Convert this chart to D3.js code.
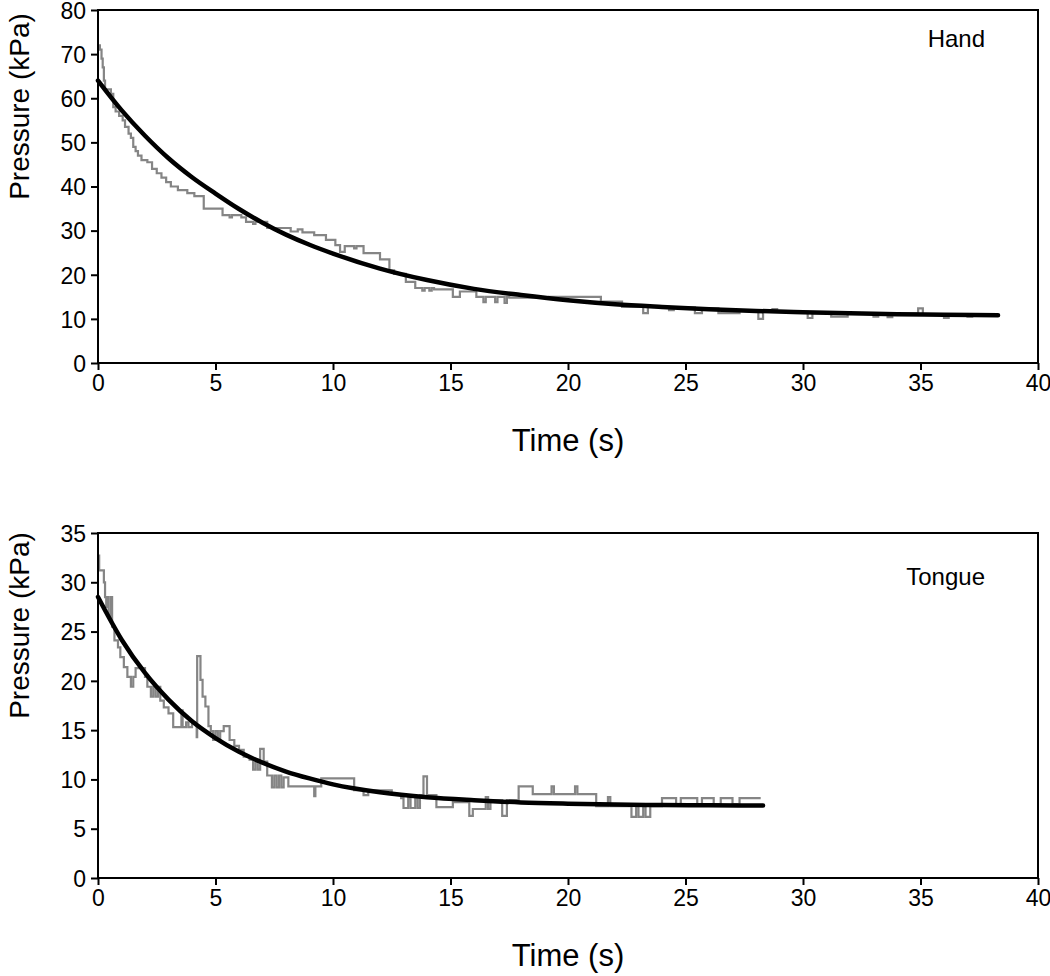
<!DOCTYPE html>
<html>
<head>
<meta charset="utf-8">
<script src="https://cdn.jsdelivr.net/npm/d3@7"></script>
<style>
  body { margin: 0; background: #fff; }
  svg { display: block; font-family: "Liberation Sans", Arial, sans-serif; }
</style>
</head>
<body>
<div class="chart"></div>
<script>
// raw pressure trace (step data) and fitted decay curve, [time s, kPa]
const handRaw = [
  [0, 72], [0.08, 71], [0.15, 69], [0.2, 67], [0.25, 64], [0.3, 62], [0.55, 61], [0.65, 58],
  [0.75, 57], [0.9, 56], [1.05, 55], [1.15, 53.5], [1.3, 52], [1.4, 51], [1.5, 49], [1.6, 48],
  [1.7, 47], [1.85, 46], [2.1, 45.5], [2.3, 44], [2.5, 43], [2.7, 42], [2.9, 41], [3.1, 40],
  [3.4, 39.2], [3.8, 38.5], [4.1, 37.8], [4.5, 35], [5.3, 33.5], [5.6, 33], [5.7, 33.5],
  [6.1, 33], [6.3, 32], [6.6, 31.5], [6.7, 32], [7.2, 30.6], [8.2, 29.8], [8.5, 30.3],
  [8.7, 29.6], [9.2, 29], [9.7, 27.9], [10.1, 26.7], [10.3, 25.2], [10.5, 26.5], [10.9, 26],
  [11.0, 26.5], [11.3, 24.9], [12.0, 23.5], [12.4, 21], [12.6, 20.2], [13.1, 18.4], [13.5, 17],
  [13.8, 16.4], [13.9, 17], [14.1, 16.4], [14.2, 17], [14.3, 16.7], [15.1, 15], [15.4, 16.2],
  [16.1, 15], [16.4, 13.8], [16.5, 15], [16.9, 13.8], [17.0, 15], [17.3, 13.6], [17.4, 15],
  [17.5, 14.8], [19.2, 15], [21.4, 13.9], [22.3, 12.7], [23.2, 11.3], [23.4, 12.7], [24.3, 12],
  [24.5, 12.6], [25.4, 11.3], [25.7, 12.4], [26.4, 11.3], [27.3, 11.8], [28.1, 10], [28.3, 11.8],
  [28.7, 12.2], [28.9, 11.6], [30.2, 10.2], [30.4, 11.3], [31.2, 10.5], [31.9, 11.3], [33.0, 10.5],
  [33.2, 11.2], [33.6, 10.4], [33.8, 11.2], [34.9, 12.4], [35.1, 10.9], [36.0, 10.2], [36.2, 10.9],
  [37.0, 10.5], [37.2, 10.9], [38.3, 10.9],
];
const handFit = [
  [0, 64], [1, 57.3], [2, 51.5], [3, 46.4], [4, 42.1], [5, 38.4], [6, 34.9], [7, 31.8],
  [8, 29.1], [9, 26.8], [10, 24.8], [12, 21.4], [14, 18.8], [16, 16.8], [18, 15.4],
  [20, 14.2], [22, 13.3], [24, 12.7], [26, 12.2], [28, 11.8], [30, 11.5], [32, 11.25],
  [34, 11.07], [36, 10.94], [38.3, 10.8],
];

const tongueRaw = [
  [0, 32.7], [0.05, 31.2], [0.25, 30], [0.3, 28.5], [0.35, 27.5], [0.4, 28.5], [0.45, 26.5],
  [0.55, 28.5], [0.6, 25.5], [0.7, 24.1], [0.85, 23.4], [0.95, 22.4], [1.1, 21.4], [1.25, 20.4],
  [1.4, 19.4], [1.5, 20.4], [1.6, 21.3], [2.0, 20.4], [2.1, 19.4], [2.25, 18.4], [2.35, 19.4],
  [2.45, 18.4], [2.55, 19.4], [2.65, 18], [2.8, 17.3], [3.0, 16.7], [3.2, 15.3], [3.55, 17],
  [3.6, 15.3], [3.75, 15.8], [3.85, 15.3], [4.0, 15.8], [4.2, 14.3], [4.22, 22.5], [4.36, 20.1],
  [4.45, 18.4], [4.57, 17.4], [4.7, 15.4], [4.8, 14.9], [4.9, 14], [5.0, 14.9], [5.1, 14],
  [5.2, 14.9], [5.35, 15.4], [5.6, 14], [5.8, 13.4], [6.0, 13], [6.2, 12.3], [6.45, 12],
  [6.6, 11], [6.7, 12], [6.8, 11], [6.9, 13.1], [7.05, 11.8], [7.2, 10.4], [7.4, 9.2],
  [7.5, 10.4], [7.6, 9.2], [7.7, 10.4], [7.8, 9.2], [7.9, 10.2], [8.1, 9.3], [9.2, 8.3],
  [9.25, 9.3], [9.5, 10.1], [10.9, 8.9], [11.3, 8.4], [11.5, 8.9], [12.5, 8.5], [12.9, 8.1],
  [13.0, 7.1], [13.2, 8.1], [13.3, 7.1], [13.5, 8.1], [13.6, 7.1], [13.7, 8.4], [13.85, 10.3],
  [14.0, 8.4], [14.4, 7.2], [15.1, 7.7], [15.8, 6.3], [15.95, 7.0], [16.5, 8.2], [16.6, 7.0],
  [16.7, 7.9], [17.2, 6.3], [17.4, 7.9], [17.9, 9.3], [18.5, 8.5], [19.3, 9.3], [19.4, 8.5],
  [20.3, 9.3], [20.4, 8.5], [21.2, 7.3], [21.7, 8.2], [21.8, 7.3], [22.7, 6.2], [22.9, 7.3],
  [23.0, 6.2], [23.2, 7.3], [23.3, 6.2], [23.5, 7.3], [24.0, 8.1], [24.6, 7.5], [24.8, 8.1],
  [25.5, 7.5], [25.7, 8.1], [26.2, 7.5], [26.5, 8.1], [27.0, 7.5], [27.3, 8.1], [28.2, 8.1],
];
const tongueFit = [
  [0, 28.5], [1, 24.2], [2, 20.8], [3, 18.1], [4, 15.9], [5, 14.2], [6, 12.8], [7, 11.7],
  [8, 10.8], [9, 10.1], [10, 9.5], [12, 8.7], [14, 8.2], [16, 7.9], [18, 7.67], [20, 7.54],
  [22, 7.45], [24, 7.4], [26, 7.37], [28.3, 7.35],
];

const xTicks = [0, 5, 10, 15, 20, 25, 30, 35, 40];
const handTicks = [0, 10, 20, 30, 40, 50, 60, 70, 80];
const tongueTicks = [0, 5, 10, 15, 20, 25, 30, 35];

const panels = [
  { label: 'Hand', raw: handRaw, fit: handFit, yMax: 80, yTicks: handTicks, top: 10, bottom: 363, labelY: 38 },
  { label: 'Tongue', raw: tongueRaw, fit: tongueFit, yMax: 35, yTicks: tongueTicks, top: 533, bottom: 878, labelY: 576 },
];

const W = 1050, H = 976;
const left = 98, right = 1038;

const svg = d3.select('.chart').append('svg')
  .attr('width', W)
  .attr('height', H);

panels.forEach(p => {
  const x = d3.scaleLinear().domain([0, 40]).range([left, right]);
  const y = d3.scaleLinear().domain([0, p.yMax]).range([p.bottom, p.top]);
  const g = svg.append('g');

  // data
  const rawLine = d3.line()
    .x(d => x(d[0]))
    .y(d => y(d[1]))
    .curve(d3.curveStepAfter);
  g.append('path')
    .datum(p.raw)
    .attr('d', rawLine)
    .attr('fill', 'none')
    .attr('stroke', '#858585')
    .attr('stroke-width', 2.2);

  const fitLine = d3.line()
    .x(d => x(d[0]))
    .y(d => y(d[1]))
    .curve(d3.curveMonotoneX);
  g.append('path')
    .datum(p.fit)
    .attr('d', fitLine)
    .attr('fill', 'none')
    .attr('stroke', '#000')
    .attr('stroke-width', 4.5)
    .attr('stroke-linecap', 'round');

  // frame
  g.append('rect')
    .attr('x', left)
    .attr('y', p.top)
    .attr('width', right - left)
    .attr('height', p.bottom - p.top)
    .attr('fill', 'none')
    .attr('stroke', '#000')
    .attr('stroke-width', 2);

  // axes
  const xAxis = g.append('g')
    .attr('transform', `translate(0,${p.bottom})`)
    .call(d3.axisBottom(x).tickValues(xTicks).tickSize(7).tickPadding(5));
  const yAxis = g.append('g')
    .attr('transform', `translate(${left},0)`)
    .call(d3.axisLeft(y).tickValues(p.yTicks).tickSize(7).tickPadding(5));

  [xAxis, yAxis].forEach(a => {
    a.select('.domain').remove();
    a.selectAll('line').attr('stroke', '#000').attr('stroke-width', 2);
    a.selectAll('text')
      .attr('fill', '#000')
      .style('font-size', '23px')
      .style('font-family', '"Liberation Sans", Arial, sans-serif');
  });
  yAxis.selectAll('text').attr('dy', '0.36em');

  g.append('text')
    .attr('x', (left + right) / 2)
    .attr('y', p.bottom + 88)
    .attr('text-anchor', 'middle')
    .style('font-size', '31px')
    .text('Time (s)');

  g.append('text')
    .attr('transform', `translate(29,${(p.top + p.bottom) / 2 - 80}) rotate(-90)`)
    .attr('text-anchor', 'middle')
    .style('font-size', '28px')
    .text('Pressure (kPa)');

  g.append('text')
    .attr('x', 985)
    .attr('y', p.labelY + 9)
    .attr('text-anchor', 'end')
    .style('font-size', '24px')
    .text(p.label);
});
</script>
</body>
</html>
